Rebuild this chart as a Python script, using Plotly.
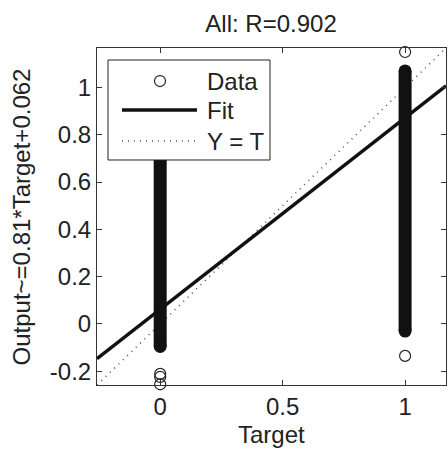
import plotly.graph_objects as go

# ---- data ----
axis_limits = [-0.258, 1.167]
x_ticks = [0, 0.5, 1]
x_tick_labels = ["0", "0.5", "1"]
y_ticks = [-0.2, 0, 0.2, 0.4, 0.6, 0.8, 1]
y_tick_labels = ["-0.2", "0", "0.2", "0.4", "0.6", "0.8", "1"]

targets = [0, 1]
# dense (overplotted) output range for each target [low, high]
dense_low = [-0.095, -0.03]
dense_high = [0.80, 1.07]
# individually visible outliers
outlier_t = [0, 0, 0, 1, 1, 1]
outlier_y = [-0.211, -0.224, -0.255, -0.135, 1.15, 1.17]

fit_slope = 0.81
fit_intercept = 0.062
title_text = "All: R=0.902"
xlabel = "Target"
ylabel = "Output~=0.81*Target+0.062"
legend_labels = ["Data", "Fit", "Y = T"]

FONT = "Liberation Sans, Arial, sans-serif"
FS = 24
TXT = "#222222"
DOT = "1px,5px"

fig = go.Figure()

# Y = T reference line
fig.add_trace(go.Scatter(
    x=axis_limits, y=axis_limits, mode="lines",
    line=dict(color="#555555", width=1.6, dash=DOT),
    showlegend=False, hoverinfo="skip"))

# dense data columns
for t, lo, hi in zip(targets, dense_low, dense_high):
    fig.add_trace(go.Scatter(
        x=[t, t], y=[lo, hi], mode="lines+markers",
        line=dict(color="#111111", width=13),
        marker=dict(symbol="circle", size=13, color="#111111"),
        showlegend=False, cliponaxis=False, hoverinfo="skip"))

# outliers
fig.add_trace(go.Scatter(
    x=outlier_t, y=outlier_y, mode="markers",
    marker=dict(symbol="circle-open", size=11, color="#222222",
                line=dict(width=1.2, color="#222222")),
    showlegend=False, cliponaxis=False, hoverinfo="skip"))

# fit line
fit_y = [fit_slope * v + fit_intercept for v in axis_limits]
fig.add_trace(go.Scatter(
    x=axis_limits, y=fit_y, mode="lines",
    line=dict(color="#111111", width=3.5),
    showlegend=False, hoverinfo="skip"))

# ---- manual legend (MATLAB style) ----
lx0, lx1, ly0, ly1 = 0.0315, 0.4957, 0.6677, 0.9644
row_y = [0.902, 0.816, 0.724]
sym_x0, sym_x1, sym_c = 0.0716, 0.2865, 0.1805
text_x = 0.309

shapes = [
    dict(type="rect", xref="paper", yref="paper", x0=lx0, x1=lx1, y0=ly0, y1=ly1,
         line=dict(color="#222222", width=1), fillcolor="white", layer="above"),
    dict(type="circle", xref="paper", yref="paper", xsizemode="pixel", ysizemode="pixel",
         xanchor=sym_c, yanchor=row_y[0], x0=-5.5, x1=5.5, y0=-5.5, y1=5.5,
         line=dict(color="#222222", width=1.2), layer="above"),
    dict(type="line", xref="paper", yref="paper", x0=sym_x0, x1=sym_x1,
         y0=row_y[1], y1=row_y[1], line=dict(color="#111111", width=3.5), layer="above"),
    dict(type="line", xref="paper", yref="paper", x0=sym_x0, x1=sym_x1,
         y0=row_y[2], y1=row_y[2], line=dict(color="#555555", width=1.6, dash=DOT),
         layer="above"),
]
annotations = [
    dict(text=lab, xref="paper", yref="paper", x=text_x, y=yy, xanchor="left",
         yanchor="middle", showarrow=False, font=dict(family=FONT, size=FS, color=TXT))
    for lab, yy in zip(legend_labels, row_y)
]
# axis titles as annotations (fixed positions)
annotations.append(dict(text=xlabel, xref="paper", yref="paper", x=0.5, y=-0.148,
                        xanchor="center", yanchor="middle", showarrow=False,
                        font=dict(family=FONT, size=FS, color=TXT)))
annotations.append(dict(text=ylabel, xref="paper", yref="paper", x=-0.215, y=0.5,
                        xanchor="center", yanchor="middle", textangle=-90, showarrow=False,
                        font=dict(family=FONT, size=FS, color=TXT)))

axis_common = dict(
    range=axis_limits, showgrid=False, zeroline=False,
    showline=True, linecolor="#333333", linewidth=1, mirror="ticks",
    ticks="inside", ticklen=5, tickcolor="#333333", automargin=False,
    tickfont=dict(family=FONT, size=FS, color=TXT),
)

fig.update_layout(
    width=448, height=453,
    margin=dict(l=97, r=2, t=48, b=68, pad=0),
    paper_bgcolor="white", plot_bgcolor="white",
    title=dict(text=title_text, x=0.605, xanchor="center", y=0.947, yanchor="middle",
               font=dict(family=FONT, size=FS, color=TXT)),
    xaxis=dict(**axis_common, tickvals=x_ticks, ticktext=x_tick_labels),
    yaxis=dict(**axis_common, tickvals=y_ticks, ticktext=y_tick_labels),
    shapes=shapes, annotations=annotations,
    showlegend=False,
)

fig.write_html("out.html", config={"displayModeBar": False},
               post_script="document.body.style.margin='0px';document.body.style.padding='0px';")
